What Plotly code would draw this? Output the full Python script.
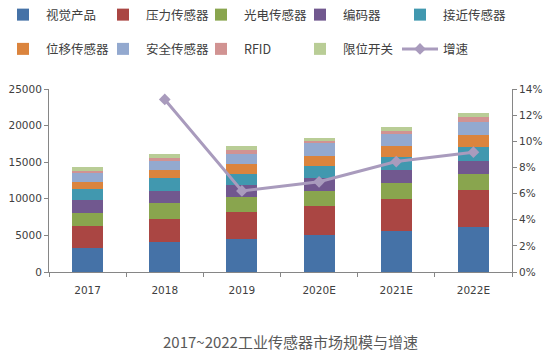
import plotly.graph_objects as go

years = ["2017", "2018", "2019", "2020E", "2021E", "2022E"]
series_names = ["视觉产品", "压力传感器", "光电传感器", "编码器", "接近传感器",
                "位移传感器", "安全传感器", "RFID", "限位开关"]
vision = [3280, 4100, 4470, 5020, 5610, 6120]
pressure = [2970, 3200, 3690, 3970, 4340, 5100]
photo = [1820, 2130, 2050, 2090, 2190, 2150]
encoder = [1740, 1600, 1640, 1780, 1780, 1820]
proximity = [1500, 1780, 1600, 1640, 1740, 1830]
displacement = [960, 1140, 1310, 1370, 1550, 1640]
safety = [1190, 1190, 1370, 1700, 1600, 1780]
rfid = [310, 500, 510, 315, 490, 720]
limit_switch = [550, 450, 590, 450, 470, 510]
growth = [None, 0.132, 0.062, 0.069, 0.0845, 0.0917]

series_values = [vision, pressure, photo, encoder, proximity,
                 displacement, safety, rfid, limit_switch]
colors = ["#4572A7", "#AA4643", "#89A54E", "#71588F", "#4198AF",
          "#DB843D", "#93A9CF", "#D19392", "#B9CD96"]

legend_ids = ["legend", "legend2", "legend3", "legend4", "legend5"]

fig = go.Figure()
for i, (name, vals, c) in enumerate(zip(series_names, series_values, colors)):
    fig.add_trace(go.Bar(x=years, y=vals, name=name, marker_color=c,
                         marker_line_width=0, legendgroup=f"g{i}",
                         legend=legend_ids[i % 5]))
fig.add_trace(go.Scatter(x=years, y=growth, name="增速", yaxis="y2",
                         mode="lines+markers", legend=legend_ids[4],
                         legendgroup="g9",
                         line=dict(color="#A99BBD", width=3),
                         marker=dict(symbol="diamond", size=9, color="#A99BBD")))

axis_col = "#868686"
tick_font = dict(family="DejaVu Sans, Verdana, sans-serif", size=10.5, color="#404040")
leg_font = dict(family="Noto Sans CJK SC", size=12.5, color="#404040")
col_left = [0, 100, 198, 297, 397]
legends = {}
for lid, xl in zip(legend_ids, col_left):
    legends[lid] = dict(orientation="v", x=xl / 552, xanchor="left",
                        y=1.0, yanchor="top",
                        yref="container", xref="container", traceorder="grouped",
                        tracegroupgap=15, itemwidth=36, font=leg_font,
                        bgcolor="rgba(0,0,0,0)")

fig.update_layout(
    width=552, height=354,
    margin=dict(l=49, r=40, t=89, b=82, autoexpand=False),
    barmode="stack", bargap=0.6,
    plot_bgcolor="white", paper_bgcolor="white",
    font=dict(family="Noto Sans CJK SC", color="#404040", size=12),
    showlegend=True,
    xaxis=dict(type="category", showline=True, linecolor=axis_col, linewidth=1,
               ticks="outside", tickson="boundaries", ticklen=4, tickcolor=axis_col,
               tickfont=tick_font, showgrid=False, zeroline=False,
               ticklabelstandoff=8),
    yaxis=dict(range=[0, 25000], dtick=5000, showline=True, linecolor=axis_col,
               ticks="outside", ticklen=4, tickcolor=axis_col, tickfont=tick_font,
               showgrid=False, zeroline=False, tickformat="d"),
    yaxis2=dict(range=[0, 0.14], dtick=0.02, overlaying="y", side="right",
                showline=True, linecolor=axis_col, ticks="outside", ticklen=4,
                tickcolor=axis_col, tickfont=tick_font, tickformat=".0%",
                showgrid=False, zeroline=False),
    annotations=[dict(text="2017~2022工业传感器市场规模与增速",
                      x=(290 - 49) / (552 - 49 - 40), y=-(340 - 271) / (271 - 89),
                      xref="paper", yref="paper", showarrow=False,
                      xanchor="center", yanchor="middle",
                      font=dict(family="Noto Sans CJK SC", size=15, color="#595959"))],
    **legends,
)
fig.write_html("out.html")
